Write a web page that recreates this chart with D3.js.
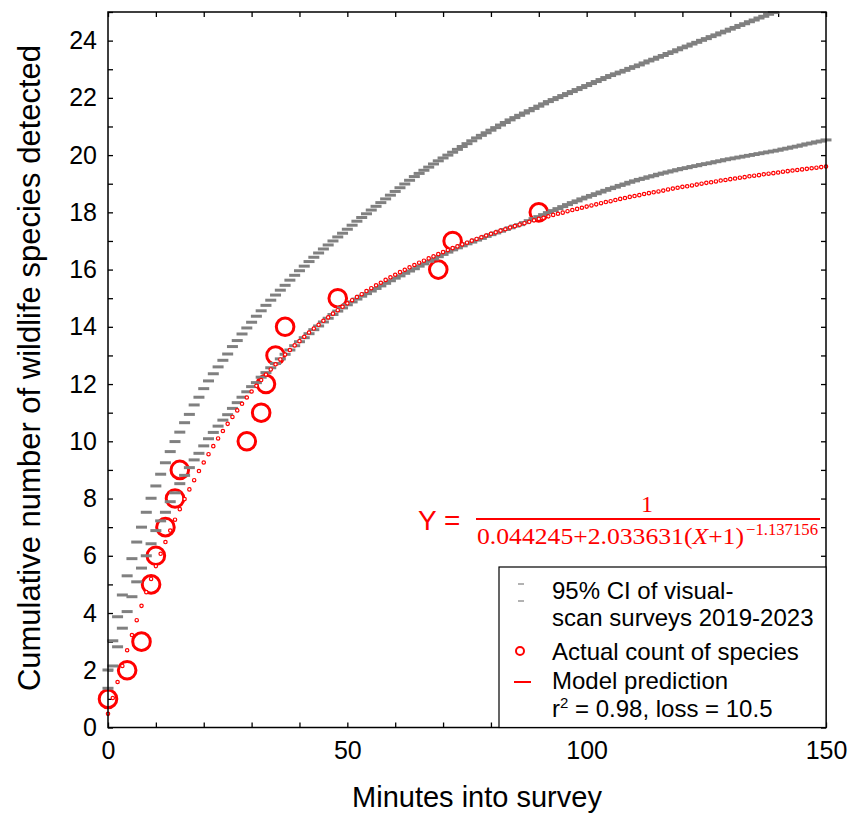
<!DOCTYPE html>
<html><head><meta charset="utf-8">
<script src="https://cdn.jsdelivr.net/npm/d3@7"></script>
<style>body{margin:0;background:#fff} svg{display:block}</style>
</head><body>
<svg id="c" width="862" height="815"></svg>
<script>
// ---------- data ----------
const actualMinutes = [0,4,7,9,10,12,14,15,29,32,33,35,37,48,69,72,90];
const actualCounts  = [1,2,3,5,6,7,8,9,10,11,12,13,14,15,16,17,18];

// model prediction, one value per minute (0..150)
const modelPrediction = [0.48,1.03,1.59,2.15,2.70,3.23,3.75,4.25,4.73,5.19,
5.64,6.07,6.48,6.88,7.26,7.63,7.98,8.32,8.64,8.96,
9.26,9.55,9.83,10.10,10.36,10.61,10.85,11.08,11.31,11.53,
11.74,11.94,12.14,12.33,12.51,12.69,12.86,13.03,13.19,13.35,
13.50,13.65,13.80,13.94,14.07,14.21,14.33,14.46,14.58,14.70,
14.82,14.93,15.04,15.14,15.25,15.35,15.45,15.54,15.64,15.73,
15.82,15.91,15.99,16.08,16.16,16.24,16.31,16.39,16.46,16.54,
16.61,16.68,16.75,16.81,16.88,16.94,17.01,17.07,17.13,17.19,
17.25,17.30,17.36,17.41,17.47,17.52,17.57,17.62,17.67,17.72,
17.77,17.81,17.86,17.91,17.95,17.99,18.04,18.08,18.12,18.16,
18.20,18.24,18.28,18.32,18.36,18.39,18.43,18.47,18.50,18.54,
18.57,18.60,18.64,18.67,18.70,18.73,18.76,18.80,18.83,18.86,
18.89,18.91,18.94,18.97,19.00,19.03,19.05,19.08,19.11,19.13,
19.16,19.18,19.21,19.23,19.26,19.28,19.30,19.33,19.35,19.37,
19.39,19.42,19.44,19.46,19.48,19.50,19.52,19.54,19.56,19.58,19.60];

// 95% CI upper bound, one value per minute (0..139)
const ciUpper = [2.01,3.03,3.87,4.63,5.30,5.90,6.48,7.00,7.52,8.01,
8.44,8.85,9.25,9.64,9.99,10.32,10.65,10.94,11.27,11.54,
11.84,12.11,12.36,12.60,12.83,13.05,13.31,13.52,13.75,13.96,
14.16,14.37,14.56,14.75,14.93,15.11,15.28,15.45,15.63,15.80,
15.96,16.12,16.28,16.43,16.58,16.72,16.86,17.00,17.14,17.27,
17.41,17.55,17.69,17.82,17.95,18.08,18.21,18.34,18.47,18.60,
18.73,18.86,18.99,19.12,19.25,19.36,19.47,19.58,19.69,19.80,
19.90,20.00,20.10,20.20,20.30,20.40,20.50,20.60,20.69,20.78,
20.87,20.96,21.05,21.14,21.23,21.31,21.39,21.47,21.55,21.63,
21.71,21.79,21.87,21.94,22.01,22.08,22.15,22.22,22.29,22.36,
22.43,22.50,22.57,22.64,22.71,22.78,22.84,22.90,22.96,23.03,
23.09,23.15,23.22,23.29,23.35,23.42,23.48,23.55,23.61,23.68,
23.75,23.81,23.88,23.94,24.01,24.07,24.14,24.20,24.27,24.33,
24.40,24.46,24.53,24.59,24.66,24.72,24.79,24.85,24.92,24.98];

// 95% CI lower bound, one value per minute (0..150)
const ciLower = [1.37,2.15,2.82,3.47,4.05,4.57,5.09,5.57,6.00,6.42,
6.88,7.22,7.52,7.89,8.20,8.52,8.81,9.08,9.35,9.58,
9.84,10.09,10.31,10.53,10.74,10.93,11.15,11.35,11.54,11.73,
11.91,12.05,12.24,12.40,12.57,12.72,12.88,13.04,13.19,13.34,
13.48,13.62,13.76,13.90,14.03,14.17,14.30,14.43,14.55,14.66,
14.77,14.87,14.97,15.07,15.16,15.25,15.34,15.43,15.52,15.61,
15.70,15.78,15.87,15.95,16.03,16.12,16.20,16.29,16.37,16.45,
16.53,16.61,16.69,16.76,16.83,16.90,16.96,17.03,17.09,17.16,
17.22,17.28,17.34,17.40,17.46,17.52,17.57,17.64,17.71,17.78,
17.85,17.92,17.99,18.06,18.13,18.20,18.27,18.34,18.40,18.47,
18.53,18.59,18.65,18.71,18.77,18.83,18.88,18.94,18.99,19.05,
19.10,19.15,19.19,19.24,19.28,19.33,19.37,19.41,19.45,19.49,
19.53,19.56,19.60,19.63,19.67,19.70,19.73,19.77,19.80,19.84,
19.87,19.90,19.93,19.96,19.99,20.02,20.05,20.08,20.11,20.14,
20.17,20.21,20.24,20.28,20.31,20.35,20.39,20.42,20.46,20.49,20.53];

const xTicks = [0,10,20,30,40,50,60,70,80,90,100,110,120,130,140,150];
const xTickLabels = [0,50,100,150];
const yTicks = [0,1,2,3,4,5,6,7,8,9,10,11,12,13,14,15,16,17,18,19,20,21,22,23,24,25];
const yTickLabels = [0,2,4,6,8,10,12,14,16,18,20,22,24];

const legendLines = ["95% CI of visual-","scan surveys 2019-2023","Actual count of species","Model prediction"];

// ---------- layout ----------
const svg = d3.select("#c");
const L = 108, R = 826, T = 12, B = 727.5;
const x = d3.scaleLinear().domain([0,150]).range([L,R]);
const y = d3.scaleLinear().domain([0,25]).range([B,T]);
const FONT = "'Liberation Sans', Arial, sans-serif";
const SERIF = "'Liberation Serif', 'Times New Roman', serif";
const GREY = "#808080", RED = "#ff0000";

// ---------- axes ----------
function styleAxis(g){
  g.select(".domain").remove();
  g.selectAll(".tick line").attr("stroke","#000").attr("stroke-width",1.3);
  g.selectAll(".tick text").style("font-family",FONT).style("font-size","25px").attr("fill","#000");
}
svg.append("g").attr("transform",`translate(${L},0)`)
  .call(d3.axisLeft(y).tickValues(yTicks).tickSize(-5).tickPadding(11)
    .tickFormat(d => yTickLabels.includes(d) ? d : ""))
  .call(styleAxis);
svg.append("g").attr("transform",`translate(${R},0)`)
  .call(d3.axisRight(y).tickValues(yTicks).tickSize(-5).tickFormat(""))
  .call(styleAxis);
svg.append("g").attr("transform",`translate(0,${B})`)
  .call(d3.axisBottom(x).tickValues(xTicks).tickSize(-5).tickPadding(14)
    .tickFormat(d => xTickLabels.includes(d) ? d : ""))
  .call(styleAxis);
svg.append("g").attr("transform",`translate(0,${T})`)
  .call(d3.axisTop(x).tickValues(xTicks).tickSize(-5).tickFormat(""))
  .call(styleAxis);

// ---------- marks ----------
// actual counts (large open circles)
svg.append("g").selectAll("circle").data(actualMinutes).join("circle")
  .attr("cx", d => x(d)).attr("cy", (d,i) => y(actualCounts[i])).attr("r",8.8)
  .attr("fill","none").attr("stroke",RED).attr("stroke-width",3);

// CI dashes
const ciG = svg.append("g").attr("stroke",GREY).attr("stroke-width",3);
ciG.selectAll("line.u").data(ciUpper).join("line").attr("class","u")
  .attr("x1",(d,i)=>x(i)-5.5).attr("x2",(d,i)=>x(i)+5.5)
  .attr("y1",d=>y(d)).attr("y2",d=>y(d));
ciG.selectAll("line.l").data(ciLower).join("line").attr("class","l")
  .attr("x1",(d,i)=>x(i)-5.5).attr("x2",(d,i)=>x(i)+5.5)
  .attr("y1",d=>y(d)).attr("y2",d=>y(d));

// model prediction (small open circles)
svg.append("g").selectAll("circle").data(modelPrediction).join("circle")
  .attr("cx",(d,i)=>x(i)).attr("cy",d=>y(d)).attr("r",1.7)
  .attr("fill","#fff").attr("stroke",RED).attr("stroke-width",1.2);

// frame
svg.append("rect").attr("x",L).attr("y",T).attr("width",R-L).attr("height",B-T)
  .attr("fill","none").attr("stroke","#000").attr("stroke-width",1.5);

// ---------- equation ----------
const eq = svg.append("g").attr("fill",RED);
eq.append("text").attr("x",418).attr("y",530).style("font-family",FONT).style("font-size","28px").text("Y =");
eq.append("text").attr("x",647).attr("y",512).attr("text-anchor","middle")
  .style("font-family",SERIF).style("font-size","24px").text("1");
eq.append("line").attr("x1",476).attr("x2",820).attr("y1",519).attr("y2",519)
  .attr("stroke",RED).attr("stroke-width",2);
const den = eq.append("text").attr("x",477).attr("y",544)
  .style("font-family",SERIF).style("font-size","24px")
  .attr("textLength",267).attr("lengthAdjust","spacingAndGlyphs");
den.append("tspan").text("0.044245+2.033631(");
den.append("tspan").style("font-style","italic").text("X");
den.append("tspan").text("+1)");
eq.append("text").attr("x",746).attr("y",535)
  .style("font-family",SERIF).style("font-size","17px")
  .attr("textLength",72).attr("lengthAdjust","spacingAndGlyphs").text("\u22121.137156");

// ---------- legend ----------
const lg = svg.append("g");
lg.append("rect").attr("x",499).attr("y",567).attr("width",R-499).attr("height",B-567)
  .attr("fill","#fff").attr("stroke","#000").attr("stroke-width",1.2);
lg.append("line").attr("x1",518).attr("x2",524).attr("y1",584).attr("y2",584).attr("stroke","#999").attr("stroke-width",1.5);
lg.append("line").attr("x1",518).attr("x2",524).attr("y1",601).attr("y2",601).attr("stroke","#999").attr("stroke-width",1.5);
lg.append("circle").attr("cx",520).attr("cy",651).attr("r",4).attr("fill","none").attr("stroke",RED).attr("stroke-width",2);
lg.append("line").attr("x1",514).attr("x2",531).attr("y1",682).attr("y2",682).attr("stroke",RED).attr("stroke-width",2);
const lgY = [599,626,660,689];
lg.selectAll("text.t").data(legendLines).join("text").attr("class","t")
  .attr("x",552).attr("y",(d,i)=>lgY[i]).style("font-family",FONT).style("font-size","24px").text(d=>d);
const r2 = lg.append("text").attr("x",552).attr("y",717).style("font-family",FONT).style("font-size","24px");
r2.append("tspan").text("r");
r2.append("tspan").attr("dy",-9).style("font-size","15px").text("2");
r2.append("tspan").attr("dy",9).text(" = 0.98, loss = 10.5");

// ---------- axis titles ----------
svg.append("text").attr("x",477).attr("y",807).attr("text-anchor","middle")
  .style("font-family",FONT).style("font-size","29px").text("Minutes into survey");
svg.append("text").attr("transform","translate(40,368) rotate(-90)").attr("text-anchor","middle")
  .style("font-family",FONT).style("font-size","31px").text("Cumulative number of wildlife species detected");
</script>
</body></html>
